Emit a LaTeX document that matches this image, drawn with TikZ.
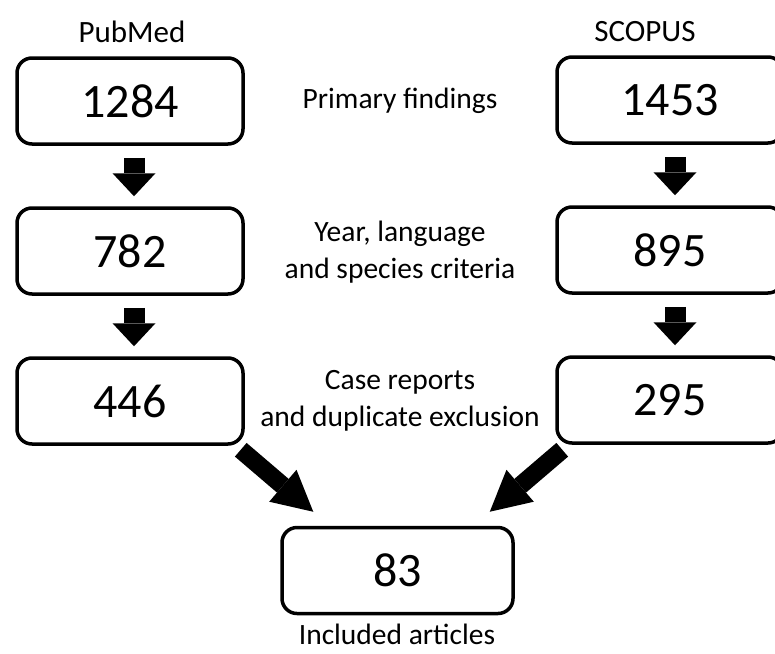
\documentclass[tikz,border=0pt]{standalone}
\usepackage{fontspec}
\setmainfont{Carlito}
\usetikzlibrary{arrows.meta,calc}
\tikzset{
  box/.style={draw=black, line width=3.5pt, rounded corners=15pt, minimum width=226pt, minimum height=86pt, inner sep=0pt, font=\fontsize{48}{56}\selectfont},
  lbl/.style={font=\fontsize{29.5}{37}\selectfont, inner sep=0pt, align=center},
  head/.style={font=\fontsize{31}{37}\selectfont, inner sep=0pt},
  downarrow/.style={line width=21pt, -{Triangle[length=23pt,width=43pt,line width=0pt]}},
  diagarrow/.style={line width=18pt, -{Triangle[length=40pt,width=42pt,line width=0pt]}},
}
\begin{document}
\begin{tikzpicture}[x=1pt,y=-1pt]
\useasboundingbox (0,0) rectangle (775,653);
\clip (0,0) rectangle (775,653);
\fill[white] (0,0) rectangle (775,653);
% headings
\node[head] (pm) at (132,32) {PubMed};
\node[head] (sc) at (645,32) {SCOPUS};
% left column
\node[box] (l1) at (130,101) {1284};
\node[box] (l2) at (130,251) {782};
\node[box] (l3) at (130,401) {446};
% right column
\node[box] (r1) at (670,100) {1453};
\node[box] (r2) at (670,250) {895};
\node[box] (r3) at (670,400) {295};
% bottom
\node[box, minimum width=231pt, minimum height=86pt] (b) at (397.5,570.5) {83};
% middle labels
\node[lbl] (t1) at (400,101) {Primary findings};
\node[lbl] (t2) at (400,252) {Year, language\\and species criteria};
\node[lbl] (t3) at (400,401) {Case reports\\and duplicate exclusion};
\node[lbl, anchor=base, text depth=0pt] (t4) at (397,644.5) {Included articles};
% vertical arrows
\draw[downarrow, shorten <=12pt, shorten >=10pt] ([xshift=4pt]l1.south) -- ([xshift=4pt]l2.north);
\draw[downarrow, shorten <=12pt, shorten >=10pt] ([xshift=4pt]l2.south) -- ([xshift=4pt]l3.north);
\draw[downarrow, shorten <=12pt, shorten >=10pt] ([xshift=5pt]r1.south) -- ([xshift=5pt]r2.north);
\draw[downarrow, shorten <=12pt, shorten >=10pt] ([xshift=5pt]r2.south) -- ([xshift=5pt]r3.north);
% diagonal arrows
\draw[diagarrow] ($(l3.south east)+(-4,4)$) -- ($(b.north west)+(33,-14)$);
\draw[diagarrow] ($(r3.south west)+(7,5)$) -- ($(b.north east)+(-25,-14)$);
\end{tikzpicture}
\end{document}
